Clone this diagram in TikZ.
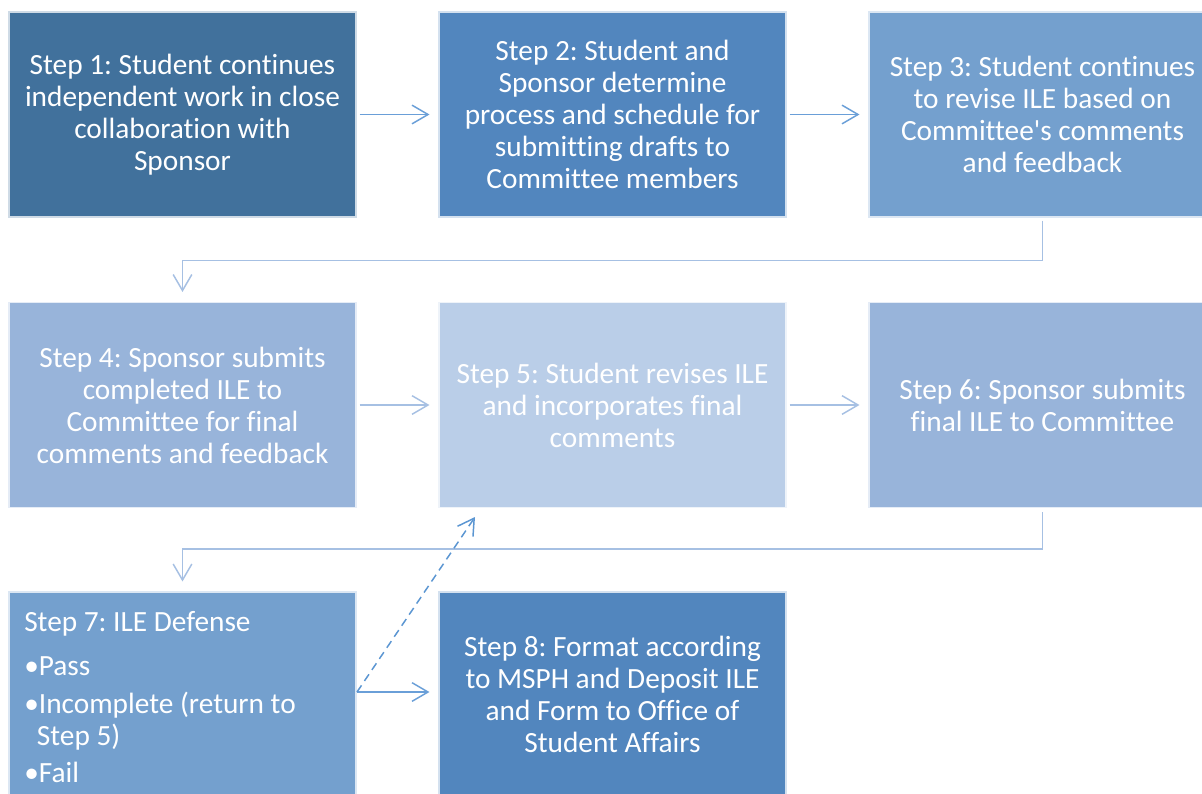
\documentclass[tikz,border=0pt]{standalone}
\usepackage{fontspec}
\setmainfont{Carlito}[Ligatures=NoCommon]
\usetikzlibrary{arrows.meta,positioning}
\frenchspacing
\definecolor{cA}{RGB}{65,113,156}
\definecolor{cB}{RGB}{82,134,190}
\definecolor{cC}{RGB}{116,160,206}
\definecolor{cD}{RGB}{152,180,218}
\definecolor{cE}{RGB}{186,206,232}
\definecolor{arrA}{RGB}{106,159,216}
\definecolor{arrB}{RGB}{166,192,227}
\definecolor{dashc}{RGB}{91,150,210}
\tikzset{
  x=0.75pt, y=-0.75pt,
  stepbox/.style={rectangle, minimum width=347*0.75pt, minimum height=205*0.75pt,
    inner sep=0pt, text=white, align=center, draw=white!75!#1, line width=0.8pt,
    fill=#1, font=\fontsize{22}{24}\selectfont},
  arr/.style={draw=#1, line width=1.1pt, -{Straight Barb[length=12pt,width=14pt,line width=1.1pt]}},
}
\begin{document}
\begin{tikzpicture}
\useasboundingbox (0,0) rectangle (1202,793);
\clip (0,0) rectangle (1202,793);
\fill[white] (0,0) rectangle (1202,793);
% row 1
\node[stepbox=cA] (s1) at (182.5,114.5) {Step 1: Student continues\\independent work in close\\collaboration with\\Sponsor};
\node[stepbox=cB] (s2) at (612.5,114.5) {Step 2: Student and\\Sponsor determine\\process and schedule for\\submitting drafts to\\Committee members};
\node[stepbox=cC] (s3) at (1042.5,114.5) {Step 3: Student continues\\to revise ILE based on\\Committee\textquotesingle s comments\\and feedback};
% row 2
\node[stepbox=cD] (s4) at (182.5,405) {Step 4: Sponsor submits\\completed ILE to\\Committee for final\\comments and feedback};
\node[stepbox=cE] (s5) at (612.5,405) {Step 5: Student revises ILE\\and incorporates final\\comments};
\node[stepbox=cD] (s6) at (1042.5,405) {Step 6: Sponsor submits\\final ILE to Committee};
% row 3
\node[stepbox=cC] (s7) at (182.5,694.5) {};
\node[stepbox=cB] (s8) at (612.5,694.5) {Step 8: Format according\\to MSPH and Deposit ILE\\and Form to Office of\\Student Affairs};
\node[anchor=north west, align=left, inner sep=0pt, text=white, font=\fontsize{22}{24}\selectfont] (t7) at (24,611.5)
  {Step 7: ILE Defense\\[9pt]\textbullet Pass\\[4.5pt]\textbullet Incomplete (return to\\\hspace{9.5pt}Step 5)\\[3.5pt]\textbullet Fail};
% connectors
\draw[arr=arrA] ([xshift=3*0.75pt]s1.east) -- ([xshift=-9*0.75pt]s2.west);
\draw[arr=arrA] ([xshift=3*0.75pt]s2.east) -- ([xshift=-9*0.75pt]s3.west);
\draw[arr=arrB] ([xshift=3*0.75pt]s4.east) -- ([xshift=-9*0.75pt]s5.west);
\draw[arr=arrB] ([xshift=3*0.75pt]s5.east) -- ([xshift=-9*0.75pt]s6.west);
\coordinate (e7) at (357,692);
\draw[arr=arrA] (e7) -- ([xshift=-9*0.75pt]s8.west |- e7);
\draw[arr=arrB] ([yshift=-3*0.75pt]s3.south) -- ++(0,40) -| ([yshift=10*0.75pt]s4.north);
\draw[arr=arrB] ([yshift=-4*0.75pt]s6.south) -- ++(0,37) -| ([yshift=10*0.75pt]s7.north);
\coordinate (d5) at (475,517);
\draw[arr=dashc, dash pattern=on 6pt off 4pt] (e7) -- (d5);
\end{tikzpicture}
\end{document}
